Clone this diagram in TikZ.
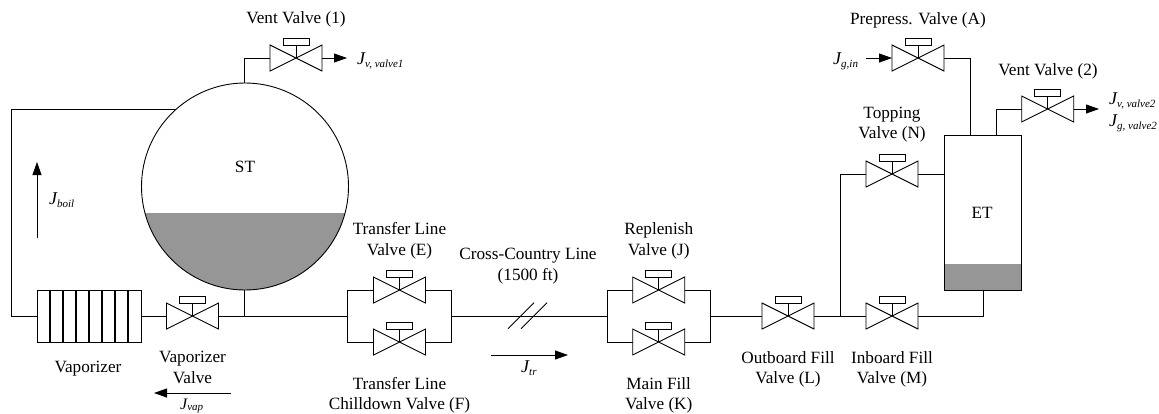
\documentclass[tikz,border=0pt]{standalone}
\usepackage{fontspec}
\setmainfont{Liberation Serif}
\usetikzlibrary{arrows.meta}
\definecolor{liquid}{HTML}{969696}
\tikzset{
  x=1pt,y=-1pt,
  pipe/.style={line width=0.9pt,line join=miter},
  flow/.style={line width=0.9pt,-{Triangle[length=13pt,width=9pt]}},
  valvebody/.style={minimum width=52pt,minimum height=26pt,inner sep=0pt,outer sep=0pt},
  valvehandle/.style={draw,line width=0.9pt,minimum width=26pt,minimum height=6.5pt,inner sep=0pt,outer sep=0pt},
  lbl/.style={font=\fontsize{17.2}{20.5}\selectfont,inner sep=0pt,align=center,text depth=0pt},
  sym/.style={font=\fontsize{18}{20}\selectfont\itshape,inner sep=0pt,anchor=base west},
}
\newcommand{\Jsub}[1]{J\raisebox{-3.5pt}{\fontsize{11}{12}\selectfont #1}}
\newcommand{\JsubTight}[1]{{\fontsize{16}{18}\selectfont J}\raisebox{-1.5pt}{\fontsize{11}{12}\selectfont #1}}
\newcommand{\valve}[3]{%
  \node[valvebody] (#1) at (#2,#3) {};
  \draw[pipe] (#1.south west) -- (#1.north east) -- (#1.south east) -- (#1.north west) -- cycle;
  \node[valvehandle] (#1h) at (#2,#3-16) {};
  \draw[pipe] (#1.center) -- (#1h.south);
}
\begin{document}
\begin{tikzpicture}
\useasboundingbox (0,0) rectangle (1159,413);
\clip (0,0) rectangle (1159,413);

% storage tank
\coordinate (STc) at (245,186.5);
\begin{scope}
  \clip (STc) circle (103.5);
  \fill[liquid] (130,213) rectangle (360,300);
\end{scope}
\node[draw,pipe,circle,minimum size=207pt,inner sep=0pt,outer sep=0pt] (ST) at (STc) {};
\node[lbl] (STl) at (245,167) {ST};

% vaporizer
\node[draw,pipe,minimum width=104pt,minimum height=52pt,inner sep=0pt,outer sep=0pt] (vap) at (89,316) {};
\foreach \i in {1,...,7} \draw[line width=1.2pt] (37+13*\i,290) -- (37+13*\i,342);

% engine tank
\fill[liquid] (944,264.3) rectangle (1021.7,290);
\node[draw,pipe,minimum width=77.7pt,minimum height=155pt,inner sep=0pt,outer sep=0pt] (ET) at (982.85,212.5) {};
\node[lbl] (ETl) at (982,213) {ET};

% valves
\valve{vOne}{296}{58}
\valve{vTwo}{1047.7}{109}
\valve{vA}{918}{58}
\valve{vN}{892}{174}
\valve{vVap}{192.5}{316}
\valve{vE}{399.5}{290}
\valve{vF}{399.5}{342}
\valve{vJ}{658.7}{290}
\valve{vK}{658.7}{342}
\valve{vL}{788}{316}
\valve{vM}{892}{316}

% junction points
\coordinate (jST) at (244,316);
\coordinate (jEFl) at (347.7,316);
\coordinate (jEFr) at (451.7,316);
\coordinate (jJKl) at (607,316);
\coordinate (jJKr) at (710.7,316);
\coordinate (jLM) at (840,316);
\coordinate (sa) at (508,328.7);
\coordinate (sb) at (534,302.7);
\coordinate (sc) at (521,328.7);
\coordinate (sd) at (547,302.7);

% pipes
\draw[pipe] (176,109) -- (11,109) -- (11,316) -- (vap.west);
\draw[pipe] (vap.east) -- (vVap.west);
\draw[pipe] (vVap.east) -- (jEFl);
\draw[pipe] (244,290) -- (jST);
\draw[pipe] (244,83) -- (244,58) -- (vOne.west);
\draw[pipe] (vE.west) -- (347.7,290) -- (347.7,342) -- (vF.west);
\draw[pipe] (vE.east) -- (451.7,290) -- (451.7,342) -- (vF.east);
\draw[pipe] (jEFr) -- (jJKl);
\draw[pipe] (sa) -- (sb);
\draw[pipe] (sc) -- (sd);
\draw[pipe] (vJ.west) -- (607,290) -- (607,342) -- (vK.west);
\draw[pipe] (vJ.east) -- (710.7,290) -- (710.7,342) -- (vK.east);
\draw[pipe] (jJKr) -- (vL.west);
\draw[pipe] (vL.east) -- (vM.west);
\draw[pipe] (jLM) -- (840,174) -- (vN.west);
\draw[pipe] (vN.east) -- (944,174);
\draw[pipe] (vM.east) -- (983,316) -- (983,290);
\draw[pipe] (vA.east) -- (970,58) -- (970,135);
\draw[pipe] (996,135) -- (996,109) -- (vTwo.west);

% flow arrows
\coordinate (aOne) at (347,58);
\coordinate (aTwo) at (1099,109);
\coordinate (aIn) at (866,58);
\coordinate (bA) at (37,238);
\coordinate (bB) at (37,162);
\coordinate (cA) at (231,393);
\coordinate (cB) at (154,393);
\coordinate (dA) at (491,355);
\coordinate (dB) at (568,355);
\draw[flow] (vOne.east) -- (aOne);
\draw[flow] (vTwo.east) -- (aTwo);
\draw[flow] (aIn) -- (vA.west);
\draw[flow] (bA) -- (bB);
\draw[flow] (cA) -- (cB);
\draw[flow] (dA) -- (dB);

% labels
\node[lbl] (t1) at (296,18) {Vent Valve (1)};
\node[lbl] (t2) at (918,19) {Prepress. Valve (A)};
\node[lbl] (t3) at (1048,70) {Vent Valve (2)};
\node[lbl] (t4) at (892,123) {Topping\\Valve (N)};
\node[lbl] (t5) at (399.5,239) {Transfer Line\\Valve (E)};
\node[lbl] (t6) at (528,264.5) {Cross-Country Line\\(1500 ft)};
\node[lbl] (t7) at (658.7,239) {Replenish\\Valve (J)};
\node[lbl] (t8) at (658.7,393.5) {Main Fill\\Valve (K)};
\node[lbl] (t9) at (788,367.5) {Outboard Fill\\Valve (L)};
\node[lbl] (t10) at (892,367.5) {Inboard Fill\\Valve (M)};
\node[lbl] (t11) at (88,367) {Vaporizer};
\node[lbl] (t12) at (192.5,367.5) {Vaporizer\\Valve};
\node[lbl] (t13) at (399.5,393.5) {Transfer Line\\Chilldown Valve (F)};

\node[sym] (s1) at (357,64) {\Jsub{v, valve1}};
\node[sym] (s2) at (1109,104) {\Jsub{v, valve2}};
\node[sym] (s3) at (1109,126) {\Jsub{g, valve2}};
\node[sym] (s4) at (833,64) {\Jsub{g,in}};
\node[sym] (s5) at (49,204) {\Jsub{boil}};
\node[sym] (s6) at (180,409) {\JsubTight{vap}};
\node[sym] (s7) at (521,372) {\Jsub{tr}};
\end{tikzpicture}
\end{document}
